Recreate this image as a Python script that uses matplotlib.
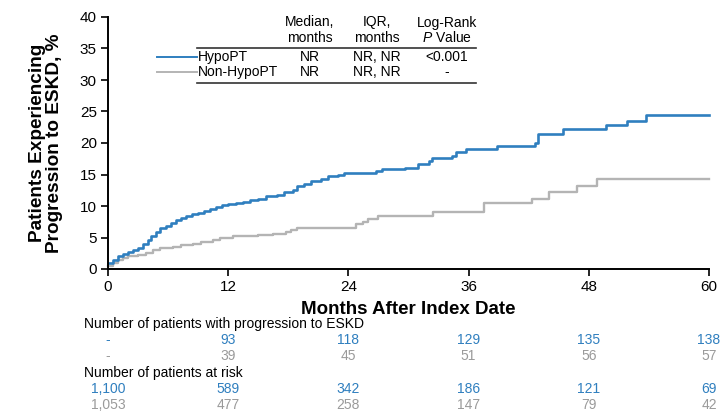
import matplotlib.pyplot as plt
from matplotlib import transforms

plt.rcParams['font.family'] = ['Liberation Sans', 'DejaVu Sans']
plt.rcParams['mathtext.fontset'] = 'custom'
plt.rcParams['mathtext.it'] = 'Liberation Sans:italic'
plt.rcParams['mathtext.rm'] = 'Liberation Sans'

BLUE = '#2f7fbf'
GREY = '#b4b4b4'
GREY_TXT = '#9a9a9a'

# cumulative incidence of ESKD (%), step changes over months
hypo_t = [0, 0.5, 1.0, 1.5, 2.0, 2.5, 3.0, 3.5, 4.0, 4.3, 4.8, 5.2, 5.8, 6.3,
          6.8, 7.3, 7.8, 8.4, 9.0, 9.6, 10.2, 10.8, 11.4, 12.0, 12.8, 13.5,
          14.2, 15.0, 15.8, 16.9, 17.6, 18.5, 18.9, 19.6, 20.3, 21.3, 22.0,
          23.0, 23.6, 26.8, 27.4, 29.7, 30.9, 32.0, 32.3, 34.3, 34.7, 35.7,
          38.8, 42.6, 42.9, 45.4, 49.7, 51.8, 53.7, 60]
hypo_pct = [1.0, 1.5, 2.0, 2.4, 2.7, 3.0, 3.4, 3.9, 4.6, 5.3, 5.9, 6.5, 6.9,
            7.3, 7.7, 8.1, 8.4, 8.7, 8.9, 9.2, 9.5, 9.9, 10.1, 10.3, 10.5,
            10.7, 10.9, 11.1, 11.6, 11.8, 12.3, 12.6, 13.1, 13.5, 13.9, 14.3,
            14.7, 15.0, 15.3, 15.5, 15.8, 16.1, 16.6, 17.1, 17.6, 18.0, 18.5,
            19.0, 19.5, 20.0, 21.5, 22.2, 22.8, 23.5, 24.4, 24.4]

non_t = [0, 0.5, 1.0, 1.5, 2.0, 3.0, 3.8, 4.5, 5.2, 6.5, 7.3, 8.5, 9.3, 10.5,
         11.2, 12.5, 15.0, 16.5, 17.8, 18.3, 18.9, 24.8, 25.5, 26.0, 27.0,
         32.4, 37.5, 42.3, 44.0, 46.8, 48.8, 60]
non_pct = [0.5, 1.0, 1.4, 1.7, 2.0, 2.3, 2.6, 3.0, 3.3, 3.5, 3.8, 4.0, 4.3,
           4.6, 4.9, 5.2, 5.4, 5.6, 5.9, 6.2, 6.5, 7.1, 7.5, 8.0, 8.4, 9.0,
           10.4, 11.1, 12.2, 13.2, 14.3, 14.3]

months = [0, 12, 24, 36, 48, 60]
events_hypo = ['-', '93', '118', '129', '135', '138']
events_non = ['-', '39', '45', '51', '56', '57']
risk_hypo = ['1,100', '589', '342', '186', '121', '69']
risk_non = ['1,053', '477', '258', '147', '79', '42']

groups = ['HypoPT', 'Non-HypoPT']
medians = ['NR', 'NR']
iqrs = ['NR, NR', 'NR, NR']
pvals = ['<0.001', '-']

W, H = 723, 411
fig = plt.figure(figsize=(W / 100, H / 100), dpi=100)
ax = fig.add_axes([108 / W, 1 - 269 / H, 601 / W, 252 / H])

ax.step(non_t, non_pct, where='post', color=GREY, lw=1.7, clip_on=False)
ax.step(hypo_t, hypo_pct, where='post', color=BLUE, lw=1.9, clip_on=False)

ax.set_xlim(0, 60)
ax.set_ylim(0, 40)
ax.set_xticks(months)
ax.set_yticks(range(0, 41, 5))
ax.tick_params(labelsize=11, length=5, width=1.2, pad=3)
for s in ['top', 'right']:
    ax.spines[s].set_visible(False)
for s in ['left', 'bottom']:
    ax.spines[s].set_linewidth(1.4)

ax.set_xlabel('Months After Index Date', fontsize=13.5, fontweight='bold', labelpad=5)
ax.set_ylabel('Patients Experiencing\nProgression to ESKD, %', fontsize=13.7,
              fontweight='bold', labelpad=12, linespacing=1.0)

# summary table at top of plot
def fx(px):
    return px / W

def fy(px):
    return 1 - px / H

fs = 10
col_x = [198, 310, 377, 447]
fig.text(fx(col_x[1]), fy(30), 'Median,\nmonths', ha='center', va='center', fontsize=fs, linespacing=1.1)
fig.text(fx(col_x[2]), fy(30), 'IQR,\nmonths', ha='center', va='center', fontsize=fs, linespacing=1.1)
fig.text(fx(col_x[3]), fy(23), 'Log-Rank', ha='center', va='center', fontsize=fs)
fig.text(fx(col_x[3]), fy(37.5), r'$\mathit{P}$ Value', ha='center', va='center', fontsize=fs)
fig.add_artist(plt.Line2D([fx(197), fx(476)], [fy(48), fy(48)], color='#333333', lw=1.2))
fig.add_artist(plt.Line2D([fx(197), fx(476)], [fy(83), fy(83)], color='#333333', lw=1.2))

row_y = [57, 72]
for i, (g, c) in enumerate(zip(groups, [BLUE, GREY])):
    y = fy(row_y[i])
    fig.add_artist(plt.Line2D([fx(157), fx(197)], [y, y], color=c, lw=1.4))
    fig.text(fx(col_x[0]), y, g, ha='left', va='center', fontsize=fs)
    fig.text(fx(col_x[1]), y, medians[i], ha='center', va='center', fontsize=fs)
    fig.text(fx(col_x[2]), y, iqrs[i], ha='center', va='center', fontsize=fs)
    fig.text(fx(col_x[3]), y, pvals[i], ha='center', va='center', fontsize=fs)

# numbers below the axis
trans = transforms.blended_transform_factory(ax.transData, fig.transFigure)
fig.text(fx(84), fy(324), 'Number of patients with progression to ESKD', ha='left', va='center', fontsize=fs)
fig.text(fx(84), fy(373), 'Number of patients at risk', ha='left', va='center', fontsize=fs)
rows = [(events_hypo, BLUE, 340), (events_non, GREY_TXT, 356),
        (risk_hypo, BLUE, 389), (risk_non, GREY_TXT, 405)]
for vals, c, ypx in rows:
    for m, v in zip(months, vals):
        ax.text(m, fy(ypx), v, transform=trans, ha='center', va='center',
                fontsize=fs, color=c, clip_on=False)

fig.savefig('out.png', dpi=100)
